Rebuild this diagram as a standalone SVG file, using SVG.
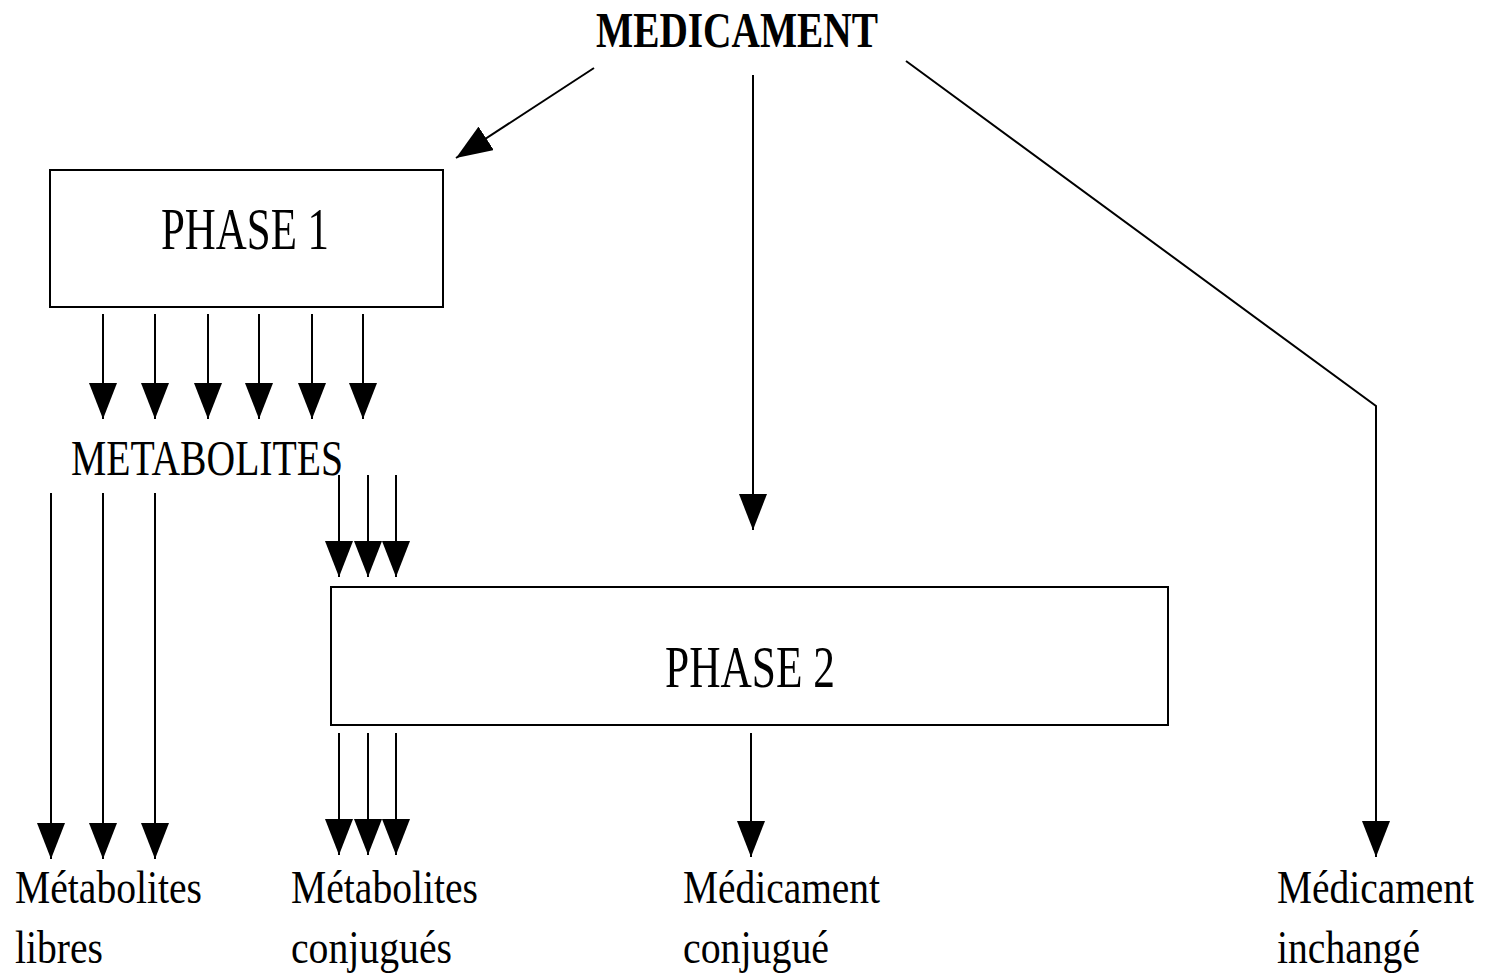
<svg xmlns="http://www.w3.org/2000/svg" width="1487" height="973" viewBox="0 0 1487 973">
<style>
text{font-family:"Liberation Serif","Times New Roman",serif;fill:#000}
.box{fill:#fff;stroke:#000;stroke-width:2}
.c{fill:none;stroke:#000;stroke-width:2}
.lbl{font-size:47px}
</style>
<defs>
<marker id="ah" markerUnits="userSpaceOnUse" markerWidth="36" markerHeight="28" refX="36" refY="14" orient="auto" viewBox="0 0 36 28">
<path d="M0,0 L36,14 L0,28 z" fill="#000"/>
</marker>
</defs>
<rect width="1487" height="973" fill="#fff"/>
<g id="medicament"><text x="596" y="47" font-size="51" font-weight="bold" textLength="282" lengthAdjust="spacingAndGlyphs">MEDICAMENT</text></g>
<g id="phase1"><rect class="box" x="50" y="170" width="393" height="137"/><text x="161" y="249" font-size="60" textLength="168" lengthAdjust="spacingAndGlyphs">PHASE 1</text></g>
<g id="metabolites"><text x="71" y="475" font-size="51" textLength="272" lengthAdjust="spacingAndGlyphs">METABOLITES</text></g>
<g id="phase2"><rect class="box" x="331" y="587" width="837" height="138"/><text x="665" y="687" font-size="59" textLength="170" lengthAdjust="spacingAndGlyphs">PHASE 2</text></g>
<g id="met-libres"><text class="lbl" x="15" y="903" textLength="187" lengthAdjust="spacingAndGlyphs">Métabolites</text><text class="lbl" x="15" y="963" textLength="88" lengthAdjust="spacingAndGlyphs">libres</text></g>
<g id="met-conj"><text class="lbl" x="291" y="903" textLength="187" lengthAdjust="spacingAndGlyphs">Métabolites</text><text class="lbl" x="291" y="963" textLength="161" lengthAdjust="spacingAndGlyphs">conjugués</text></g>
<g id="med-conj"><text class="lbl" x="683" y="903" textLength="197" lengthAdjust="spacingAndGlyphs">Médicament</text><text class="lbl" x="683" y="963" textLength="146" lengthAdjust="spacingAndGlyphs">conjugué</text></g>
<g id="med-inch"><text class="lbl" x="1277" y="903" textLength="197" lengthAdjust="spacingAndGlyphs">Médicament</text><text class="lbl" x="1277" y="963" textLength="143" lengthAdjust="spacingAndGlyphs">inchangé</text></g>
<g id="connectors" class="c" marker-end="url(#ah)">
<line x1="594" y1="68" x2="456" y2="158"/>
<line x1="753" y1="75" x2="753" y2="530"/>
<polyline points="906,61 1376,406 1376,857"/>
<line x1="103" y1="314" x2="103" y2="419"/>
<line x1="155" y1="314" x2="155" y2="419"/>
<line x1="208" y1="314" x2="208" y2="419"/>
<line x1="259" y1="314" x2="259" y2="419"/>
<line x1="312" y1="314" x2="312" y2="419"/>
<line x1="363" y1="314" x2="363" y2="419"/>
<line x1="51" y1="493" x2="51" y2="859"/>
<line x1="103" y1="493" x2="103" y2="859"/>
<line x1="155" y1="493" x2="155" y2="859"/>
<line x1="339" y1="475" x2="339" y2="577"/>
<line x1="368" y1="475" x2="368" y2="577"/>
<line x1="396" y1="475" x2="396" y2="577"/>
<line x1="339" y1="733" x2="339" y2="855"/>
<line x1="368" y1="733" x2="368" y2="855"/>
<line x1="396" y1="733" x2="396" y2="855"/>
<line x1="751" y1="733" x2="751" y2="857"/>
</g>
</svg>
